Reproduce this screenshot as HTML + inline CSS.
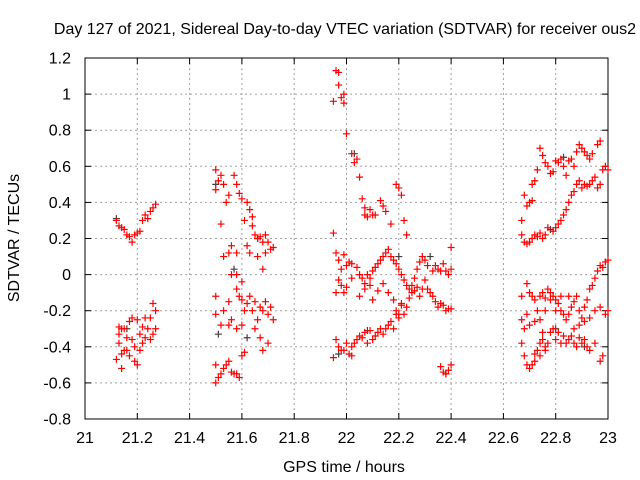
<!DOCTYPE html>
<html><head><meta charset="utf-8"><style>
html,body{margin:0;padding:0;background:#fff;}
svg{display:block;font-family:"Liberation Sans",sans-serif;}
</style></head><body>
<svg id="chart" width="640" height="480">
<text x="345" y="34" text-anchor="middle" font-size="16">Day 127 of 2021, Sidereal Day-to-day VTEC variation (SDTVAR) for receiver ous2</text>
<text x="344" y="472" text-anchor="middle" font-size="16">GPS time / hours</text>
<text x="19" y="238" text-anchor="middle" font-size="16" transform="rotate(-90 19 238)">SDTVAR / TECUs</text>
<g id="grid"></g><g id="axes"></g><g id="marks"></g>
</svg>
<script>
const xTicks=[21,21.2,21.4,21.6,21.8,22,22.2,22.4,22.6,22.8,23];
const xTickLabels=["21","21.2","21.4","21.6","21.8","22","22.2","22.4","22.6","22.8","23"];
const yTicks=[-0.8,-0.6,-0.4,-0.2,0,0.2,0.4,0.6,0.8,1,1.2];
const yTickLabels=["-0.8","-0.6","-0.4","-0.2","0","0.2","0.4","0.6","0.8","1","1.2"];
const redPoints=[
[21.12,0.30],[21.13,0.27],[21.14,0.26],[21.15,0.25],[21.16,0.22],[21.17,0.21],[21.18,0.18],[21.19,0.22],[21.20,0.23],[21.21,0.24],[21.22,0.30],[21.23,0.33],[21.24,0.31],[21.25,0.35],[21.26,0.37],[21.27,0.39],
[21.12,-0.47],[21.13,-0.38],[21.13,-0.33],[21.14,-0.52],[21.14,-0.44],[21.15,-0.42],[21.15,-0.30],[21.16,-0.35],[21.17,-0.26],[21.17,-0.45],[21.18,-0.24],[21.18,-0.36],[21.19,-0.48],[21.19,-0.40],[21.20,-0.25],[21.20,-0.50],[21.21,-0.33],[21.21,-0.42],[21.22,-0.29],[21.22,-0.38],[21.23,-0.24],[21.23,-0.35],[21.24,-0.30],[21.25,-0.24],[21.25,-0.36],[21.26,-0.33],[21.26,-0.16],[21.27,-0.30],[21.27,-0.20],[21.16,-0.42],[21.13,-0.29],[21.14,-0.30],
[21.50,0.58],[21.51,0.52],[21.52,0.55],[21.53,0.50],[21.50,0.47],[21.55,0.44],[21.54,0.40],[21.57,0.55],[21.58,0.50],[21.59,0.45],[21.60,0.42],[21.62,0.40],[21.61,0.30],[21.52,0.28],[21.53,0.10],[21.55,0.12],[21.56,0.16],[21.58,0.12],[21.63,0.36],[21.64,0.32],[21.65,0.22],[21.66,0.20],[21.67,0.21],[21.68,0.18],[21.69,0.22],[21.70,0.18],[21.71,0.14],[21.72,0.15],[21.62,0.16],[21.63,0.12],[21.66,0.10],[21.68,0.03],[21.69,0.12],[21.64,0.27],[21.56,0.00],[21.58,0.0],[21.60,-0.04],
[21.50,-0.12],[21.50,-0.22],[21.52,-0.28],[21.53,-0.20],[21.55,-0.28],[21.56,-0.25],[21.58,-0.30],[21.60,-0.28],[21.61,-0.20],[21.62,-0.16],[21.63,-0.12],[21.64,-0.20],[21.65,-0.15],[21.66,-0.25],[21.67,-0.18],[21.68,-0.20],[21.69,-0.15],[21.70,-0.22],[21.71,-0.18],[21.72,-0.25],[21.65,-0.30],[21.67,-0.35],[21.68,-0.42],[21.70,-0.38],[21.50,-0.50],[21.50,-0.60],[21.51,-0.57],[21.52,-0.55],[21.53,-0.52],[21.54,-0.50],[21.55,-0.48],[21.56,-0.54],[21.57,-0.55],[21.58,-0.55],[21.59,-0.57],[21.60,-0.45],[21.61,-0.43],[21.58,-0.08],[21.59,-0.12],[21.60,-0.14],[21.55,-0.15],
[21.95,0.96],[21.96,1.13],[21.97,1.12],[21.97,1.05],[21.98,0.98],[21.99,1.00],[21.99,0.95],[22.0,0.78],[22.02,0.67],[22.03,0.62],[22.04,0.64],[22.05,0.54],[22.06,0.42],[22.07,0.37],[22.07,0.33],[22.08,0.32],[22.09,0.36],[22.10,0.33],[22.11,0.33],[22.13,0.41],[22.14,0.38],[22.15,0.35],[22.20,0.48],[22.19,0.50],[22.21,0.44],[22.22,0.30],[22.23,0.22],[22.17,0.28],
[21.95,0.23],[21.96,0.12],[21.97,0.08],[21.98,0.03],[21.99,0.11],[22.0,0.05],[22.01,0.07],[22.02,0.06],[22.04,0.04],[22.05,0.00],[22.06,-0.02],[22.07,-0.05],[22.08,0.00],[22.09,-0.02],[22.10,0.02],[22.11,0.04],[22.12,0.06],[22.13,0.08],[22.14,0.10],[22.15,0.12],[22.16,0.14],[22.17,0.10],[22.18,0.08],[22.19,0.06],[22.20,0.03],[22.21,0.0],[22.22,-0.03],[22.23,-0.06],[22.24,-0.08],[22.25,-0.06],[22.26,-0.02],[22.27,0.03],[22.28,0.07],[22.29,0.10],[22.30,0.08],[22.31,0.05],[22.33,0.02],[22.34,0.05],[22.35,0.03],[22.36,0.02],[22.37,0.06],[22.38,0.02],[22.39,0.0],[22.40,0.15],[22.40,0.03],
[22.05,-0.12],[22.07,-0.08],[22.09,-0.06],[22.10,-0.14],[22.12,-0.09],[22.14,-0.05],[22.16,-0.10],[22.18,-0.14],[22.19,-0.20],[22.20,-0.22],[22.21,-0.16],[22.22,-0.22],[22.23,-0.18],[22.24,-0.13],[22.25,-0.10],[22.26,-0.09],[22.27,-0.07],[22.28,-0.12],[22.29,-0.08],[22.30,-0.03],[22.31,-0.08],[22.32,-0.10],[22.33,-0.12],[22.34,-0.15],[22.35,-0.18],[22.36,-0.16],[22.37,-0.17],[22.38,-0.20],[22.39,-0.19],[22.40,-0.19],[22.02,-0.02],[21.96,-0.10],[21.97,-0.03],[21.98,-0.06],[21.99,-0.10],[22.00,-0.07],
[21.95,-0.46],[21.96,-0.36],[21.97,-0.40],[21.98,-0.42],[21.99,-0.42],[22.00,-0.38],[22.01,-0.44],[22.02,-0.40],[22.03,-0.38],[22.04,-0.36],[22.05,-0.34],[22.06,-0.35],[22.07,-0.32],[22.09,-0.31],[22.10,-0.36],[22.11,-0.34],[22.12,-0.32],[22.13,-0.30],[22.14,-0.33],[22.15,-0.30],[22.16,-0.28],[22.17,-0.26],[22.18,-0.30],[22.19,-0.22],[22.20,-0.24],[22.21,-0.17],[22.02,-0.45],[22.08,-0.38],
[22.36,-0.51],[22.37,-0.54],[22.38,-0.55],[22.39,-0.53],[22.40,-0.50],
[22.73,0.58],[22.74,0.70],[22.75,0.66],[22.76,0.62],[22.77,0.60],[22.78,0.56],[22.79,0.57],[22.80,0.63],[22.81,0.62],[22.82,0.64],[22.83,0.60],[22.85,0.63],[22.86,0.64],[22.87,0.60],[22.88,0.68],[22.89,0.72],[22.90,0.70],[22.91,0.68],[22.92,0.66],[22.93,0.64],[22.94,0.67],[22.96,0.72],[22.97,0.74],[22.72,0.52],[22.71,0.50],[22.84,0.55],
[22.68,0.44],[22.69,0.38],[22.70,0.40],[22.71,0.41],[22.67,0.30],[22.67,0.22],[22.68,0.18],[22.69,0.17],[22.70,0.18],[22.71,0.20],[22.72,0.22],[22.73,0.21],[22.74,0.23],[22.75,0.20],[22.76,0.22],[22.77,0.26],[22.79,0.24],[22.80,0.26],[22.81,0.28],[22.82,0.30],[22.83,0.33],[22.84,0.36],[22.85,0.40],[22.86,0.44],[22.87,0.46],[22.88,0.50],[22.89,0.52],[22.90,0.48],[22.91,0.50],[22.92,0.49],[22.93,0.50],[22.94,0.52],[22.95,0.54],[22.96,0.48],[22.97,0.50],[22.98,0.58],[22.99,0.60],[23.0,0.58],
[22.69,-0.05],[22.70,-0.10],[22.71,-0.12],[22.72,-0.14],[22.73,-0.20],[22.74,-0.12],[22.75,-0.10],[22.76,-0.13],[22.77,-0.08],[22.78,-0.10],[22.79,-0.12],[22.80,-0.14],[22.81,-0.16],[22.82,-0.20],[22.83,-0.22],[22.84,-0.25],[22.85,-0.22],[22.86,-0.18],[22.87,-0.15],[22.88,-0.12],[22.89,-0.20],[22.90,-0.24],[22.91,-0.18],[22.92,-0.14],[22.93,-0.08],[22.94,-0.06],[22.95,-0.02],[22.96,0.02],[22.97,0.05],[22.98,0.04],[22.99,0.07],[23.0,0.08],
[22.67,-0.12],[22.67,-0.25],[22.68,-0.30],[22.69,-0.22],[22.70,-0.28],[22.72,-0.26],[22.74,-0.25],[22.76,-0.20],[22.78,-0.14],[22.80,-0.20],[22.82,-0.12],[22.85,-0.12],[22.87,-0.30],[22.89,-0.28],[22.91,-0.26],[22.93,-0.24],[22.95,-0.20],[22.97,-0.18],[22.99,-0.22],[23.0,-0.20],
[22.67,-0.38],[22.68,-0.45],[22.69,-0.50],[22.70,-0.52],[22.71,-0.50],[22.72,-0.44],[22.73,-0.42],[22.74,-0.38],[22.75,-0.36],[22.76,-0.40],[22.77,-0.38],[22.78,-0.32],[22.79,-0.30],[22.80,-0.36],[22.81,-0.32],[22.82,-0.38],[22.83,-0.34],[22.84,-0.38],[22.85,-0.36],[22.86,-0.34],[22.87,-0.38],[22.88,-0.40],[22.89,-0.35],[22.90,-0.38],[22.91,-0.36],[22.92,-0.40],[22.93,-0.42],[22.95,-0.38],[22.97,-0.48],[22.98,-0.45],[22.72,-0.48],[22.74,-0.45],[22.76,-0.42],[22.75,-0.32]
];
const blackPoints=[[21.12,0.31],[21.16,-0.30],[21.50,0.50],[21.57,0.03],[21.62,-0.35],[21.97,-0.44],[22.03,0.67],[22.08,-0.31],[22.20,0.10],[22.32,0.10],[22.38,-0.55],[22.78,0.25],[22.80,-0.30],[22.83,0.65],[22.91,-0.40],[21.51,-0.33],[21.66,0.20]];

const L=85,R=608,T=58,B=419,NS="http://www.w3.org/2000/svg";
const xs=v=>L+(v-21)/2*(R-L);
const ys=v=>B-(v+0.8)/2*(B-T);
function mk(tag,attrs,parent){const e=document.createElementNS(NS,tag);for(const k in attrs)e.setAttribute(k,attrs[k]);parent.appendChild(e);return e;}
const grid=document.getElementById('grid'),axes=document.getElementById('axes'),marks=document.getElementById('marks');
xTicks.forEach((t,i)=>{const x=xs(t);
 if(i>0&&i<xTicks.length-1){const g=mk('line',{x1:x,x2:x,y1:T,y2:B,stroke:'#a0a0a0','stroke-dasharray':'2,3','stroke-width':1},grid);
 
 }
 mk('line',{x1:x,x2:x,y1:B,y2:B-6,stroke:'#000'},axes);
 mk('line',{x1:x,x2:x,y1:T,y2:T+6,stroke:'#000'},axes);
 const lb=mk('text',{x:x,y:B+24,'text-anchor':'middle','font-size':16},axes);lb.textContent=xTickLabels[i];
 
 });
yTicks.forEach((t,i)=>{const y=ys(t);
 if(i>0&&i<yTicks.length-1){const g=mk('line',{x1:L,x2:R,y1:y,y2:y,stroke:'#a0a0a0','stroke-dasharray':'2,3','stroke-width':1},grid);
 
 }
 mk('line',{x1:L,x2:L+6,y1:y,y2:y,stroke:'#000'},axes);
 mk('line',{x1:R,x2:R-6,y1:y,y2:y,stroke:'#000'},axes);
 const lb=mk('text',{x:L-14,y:y+5.5,'text-anchor':'end','font-size':16},axes);lb.textContent=yTickLabels[i];
 
 });
const fr=mk('rect',{x:L,y:T,width:R-L,height:B-T,fill:'none',stroke:'#000'},axes);


function plus(p,col){const x=xs(p[0]),y=ys(p[1]);
 const g=mk('path',{d:`M${x-3.5} ${y}H${x+3.5}M${x} ${y-3.5}V${y+3.5}`,stroke:col,'stroke-width':1.2,fill:'none'},marks);
 
 }
blackPoints.forEach(p=>plus(p,'#404040'));
redPoints.forEach(p=>plus(p,'#ff0000'));
</script>
</body></html>
